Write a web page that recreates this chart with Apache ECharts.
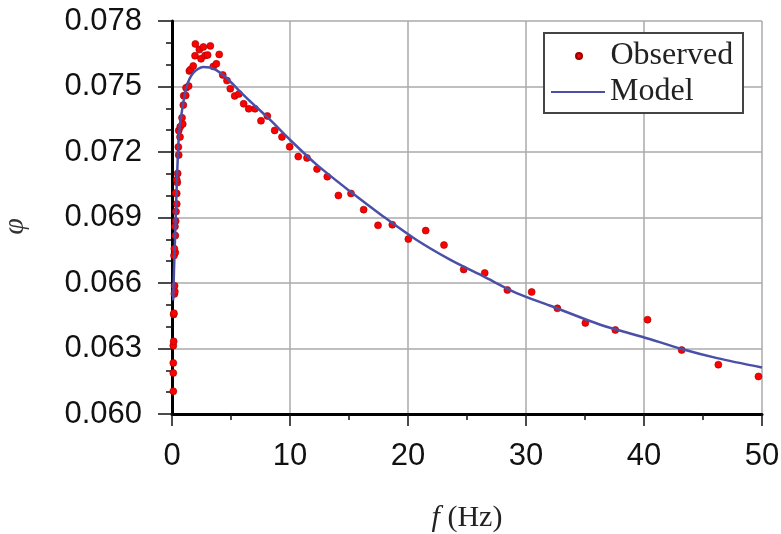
<!DOCTYPE html>
<html>
<head>
<meta charset="utf-8">
<script src="https://cdn.jsdelivr.net/npm/echarts@6/dist/echarts.min.js"></script>
<style>html,body{margin:0;padding:0;background:#fff}#c{width:781px;height:534px}</style>
</head>
<body>
<div id="c"></div>
<script>
var obsF = [0.11,0.11,0.11,0.11,0.14,0.14,0.16,0.20,0.24,0.22,0.17,0.28,0.20,0.28,0.25,0.31,0.34,0.40,0.40,0.31,0.45,0.40,0.48,0.57,0.54,0.68,0.57,0.70,0.91,0.85,0.96,0.99,1.16,1.19,1.41,1.47,1.58,1.80,1.95,1.98,2.32,2.46,2.66,2.80,3.02,3.25,3.50,3.76,4.00,4.30,4.66,4.94,5.31,5.67,6.07,6.50,7.03,7.54,8.08,8.70,9.32,9.97,10.70,11.44,12.29,13.16,14.10,15.17,16.24,17.46,18.67,20.03,21.50,23.05,24.72,26.50,28.42,30.48,32.66,35.03,37.57,40.30,43.19,46.30,49.70];
var obsPhi = [0.06104,0.06188,0.06234,0.06313,0.06333,0.06456,0.06462,0.0655,0.06561,0.06587,0.06726,0.0674,0.06757,0.06817,0.06859,0.06884,0.06927,0.06962,0.0701,0.07012,0.0706,0.07073,0.07102,0.07186,0.07223,0.07269,0.07298,0.07316,0.07328,0.07357,0.07415,0.07458,0.07459,0.07494,0.07502,0.07571,0.07578,0.07594,0.07641,0.07695,0.07669,0.07627,0.07681,0.07642,0.07644,0.07686,0.07592,0.07604,0.07647,0.07553,0.07527,0.0749,0.07457,0.07466,0.07421,0.07398,0.07398,0.07343,0.07365,0.07299,0.07269,0.07224,0.07179,0.07173,0.07122,0.07087,0.07001,0.0701,0.06936,0.06864,0.06867,0.06801,0.0684,0.06774,0.06662,0.06646,0.06568,0.06559,0.06484,0.06417,0.06385,0.06432,0.06293,0.06226,0.06172];
var modelF = [0.1,0.17,0.31,0.45,0.6,0.82,1.24,1.8,2.66,3.2,3.79,4.63,5.48,6.47,8.3,10,12.26,15.08,17.9,20.7,23.56,26.4,29.2,32,36.3,39.9,43.2,46.2,50];
var modelPhi = [0.0652,0.0666,0.0689,0.0712,0.0729,0.0738,0.0750,0.07562,0.07589,0.07587,0.07574,0.07539,0.07493,0.0744,0.07348,0.07256,0.07142,0.0702,0.06905,0.06798,0.06707,0.0663,0.06554,0.06497,0.06409,0.06353,0.06298,0.06256,0.06213];
var xTicks = [0,10,20,30,40,50];
var yTickLabels = ['0.060','0.063','0.066','0.069','0.072','0.075','0.078'];

var obsData = obsF.map(function(f,i){return [f, obsPhi[i]];});
var modelData = modelF.map(function(f,i){return [f, modelPhi[i]];});

var chart = echarts.init(document.getElementById('c'), null, {renderer:'canvas'});
var sans = 'Liberation Sans, Arial, sans-serif';
var serif = 'Liberation Serif, Times New Roman, serif';
chart.setOption({
  animation: false,
  backgroundColor: '#fff',
  grid: {left: 172, right: 19, top: 21, bottom: 120, containLabel: false, outerBoundsMode: 'none'},
  xAxis: {
    type: 'value', min: xTicks[0], max: xTicks[xTicks.length-1], interval: 10,
    axisLine: {show: true, onZero: false, lineStyle: {color: '#000', width: 3}},
    axisTick: {show: true, length: 12, lineStyle: {color: '#111', width: 1.5}},
    minorTick: {show: true, splitNumber: 2, length: 6, lineStyle: {color: '#111', width: 1.5}},
    splitLine: {show: true, lineStyle: {color: '#aaa', width: 1.5}},
    axisLabel: {fontFamily: sans, fontSize: 31, color: '#111', margin: 27},
    name: '{i|f}{n| (Hz)}', nameLocation: 'middle', nameGap: 89,
    nameTextStyle: {rich: {i: {fontFamily: serif, fontStyle: 'italic', fontSize: 30, color: '#222'}, n: {fontFamily: serif, fontSize: 30, color: '#222'}}}
  },
  yAxis: {
    type: 'value', min: 0.060, max: 0.078, interval: 0.003,
    axisLine: {show: true, onZero: false, lineStyle: {color: '#000', width: 3}},
    axisTick: {show: true, length: 14, lineStyle: {color: '#111', width: 1.5}},
    minorTick: {show: true, splitNumber: 3, length: 6, lineStyle: {color: '#111', width: 1.5}},
    splitLine: {show: true, lineStyle: {color: '#aaa', width: 1.5}},
    axisLabel: {fontFamily: sans, fontSize: 31, color: '#111', margin: 30,
      formatter: function(v){ var i = Math.round((v-0.060)/0.003); return yTickLabels[i]; }},
    name: 'φ', nameLocation: 'middle', nameGap: 142, nameRotate: 90,
    nameTextStyle: {fontFamily: serif, fontStyle: 'italic', fontSize: 30, color: '#333', padding: [0, 18, 0, 0]}
  },
  legend: [
    {data: [{name: 'Observed', icon: 'circle'}], left: 575, top: 40, itemWidth: 53, itemHeight: 6, padding: 0,
     selectedMode: false, z: 20, textStyle: {fontFamily: serif, fontSize: 32, color: '#222'}},
    {data: [{name: 'Model', icon: 'rect'}], left: 551, top: 76, itemWidth: 54, itemHeight: 2, padding: 0,
     selectedMode: false, z: 20, textStyle: {fontFamily: serif, fontSize: 32, color: '#222'}}
  ],
  graphic: [{type: 'rect', left: 543, top: 32, z: 10,
    shape: {width: 199, height: 80}, style: {fill: '#fff', stroke: '#444', lineWidth: 2}}],
  series: [
    {name: 'Observed', type: 'scatter', data: obsData, symbol: 'circle', symbolSize: 7,
     itemStyle: {color: '#f00', borderColor: '#900', borderWidth: 0.6, opacity: 1}, z: 3},
    {name: 'Model', type: 'line', data: modelData, symbol: 'none', smooth: 0.3,
     lineStyle: {color: '#4a50a8', width: 2.5}, itemStyle: {color: '#4a50a8'}, z: 4}
  ]
});
</script>
</body>
</html>
